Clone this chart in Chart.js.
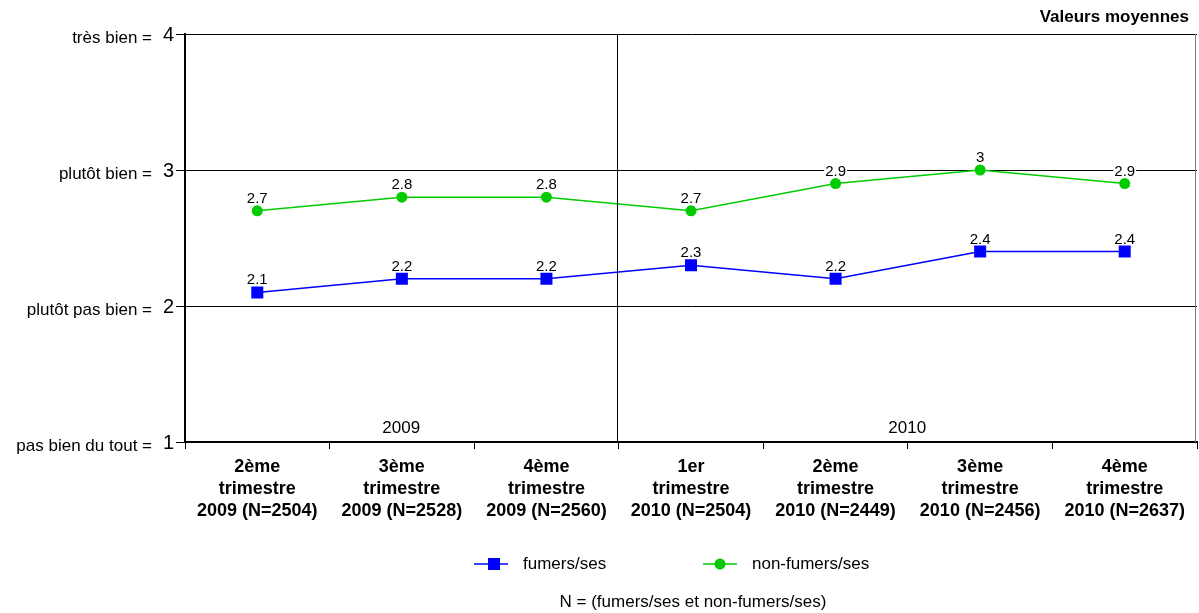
<!DOCTYPE html>
<html>
<head>
<meta charset="utf-8">
<title>Valeurs moyennes</title>
<script src="https://cdn.jsdelivr.net/npm/chart.js@4.4.1/dist/chart.umd.min.js"></script>
<style>
  html, body { margin: 0; padding: 0; background: #fff; }
  #wrap { width: 1199px; height: 613px; position: relative; }
</style>
</head>
<body>
<div id="wrap"><canvas id="myChart" width="1199" height="613"></canvas></div>
<script>
// categories (x axis, 3 lines each)
const quarters = [
  ["2ème", "trimestre", "2009 (N=2504)"],
  ["3ème", "trimestre", "2009 (N=2528)"],
  ["4ème", "trimestre", "2009 (N=2560)"],
  ["1er", "trimestre", "2010 (N=2504)"],
  ["2ème", "trimestre", "2010 (N=2449)"],
  ["3ème", "trimestre", "2010 (N=2456)"],
  ["4ème", "trimestre", "2010 (N=2637)"]
];
const fumeurs = [2.1, 2.2, 2.2, 2.3, 2.2, 2.4, 2.4];
const nonFumeurs = [2.7, 2.8, 2.8, 2.7, 2.9, 3, 2.9];

const seriesNames = ["fumers/ses", "non-fumers/ses"];
const yTickValues = [1, 2, 3, 4];
const yTickNames = { 1: "pas bien du tout =", 2: "plutôt pas bien =", 3: "plutôt bien =", 4: "très bien =" };
const years = ["2009", "2010"];
const yearSplit = 3; // first index of 2010
const chartTitle = "Valeurs moyennes";
const footNote = "N = (fumers/ses et non-fumers/ses)";

const FONT = "'Liberation Sans', Arial, sans-serif";
const blue = "#0000ff";
const green = "#00cc00";

// extra drawing: y labels, value labels, year split, legend, notes
const extras = {
  id: "extras",
  afterDraw(chart) {
    const ctx = chart.ctx;
    const area = chart.chartArea;
    const x = chart.scales.x;
    const y = chart.scales.y;
    ctx.save();

    // right border
    ctx.strokeStyle = "#808080";
    ctx.lineWidth = 1;
    ctx.beginPath();
    ctx.moveTo(area.right - 1.5, area.top);
    ctx.lineTo(area.right - 1.5, area.bottom);
    ctx.stroke();

    // year separator
    const sepX = Math.round((x.getPixelForValue(yearSplit - 1) + x.getPixelForValue(yearSplit)) / 2) - 1.5;
    ctx.strokeStyle = "#000";
    ctx.beginPath();
    ctx.moveTo(sepX, area.top);
    ctx.lineTo(sepX, area.bottom);
    ctx.stroke();

    // year labels
    ctx.fillStyle = "#000";
    ctx.font = "17px " + FONT;
    ctx.textAlign = "center";
    ctx.textBaseline = "middle";
    ctx.fillText(years[0], (area.left + sepX) / 2, area.bottom - 14);
    ctx.fillText(years[1], (sepX + area.right) / 2, area.bottom - 14);

    // y axis names
    yTickValues.forEach(v => {
      const py = y.getPixelForValue(v);
      ctx.textAlign = "right";
      ctx.font = "17px " + FONT;
      ctx.fillText(yTickNames[v], 152, py + 4);
      ctx.font = "20px " + FONT;
      ctx.fillText(String(v), 174, py + 1);
    });

    // value labels
    ctx.font = "15px " + FONT;
    ctx.textAlign = "center";
    ctx.textBaseline = "alphabetic";
    chart.data.datasets.forEach((ds, i) => {
      const meta = chart.getDatasetMeta(i);
      meta.data.forEach((pt, j) => {
        ctx.fillStyle = "#fff";
        const txt = String(ds.data[j]);
        const w = ctx.measureText(txt).width;
        ctx.fillRect(pt.x - w / 2 - 1, pt.y - 20, w + 2, 13);
        ctx.fillStyle = "#000";
        ctx.fillText(txt, pt.x, pt.y - 8);
      });
    });

    // title
    ctx.font = "bold 17px " + FONT;
    ctx.textAlign = "right";
    ctx.textBaseline = "middle";
    ctx.fillText(chartTitle, 1189, 17);

    // legend
    const legY = 564;
    const items = [
      { x: 474, color: blue, style: "rect" },
      { x: 703, color: green, style: "circle" }
    ];
    items.forEach((it, i) => {
      ctx.strokeStyle = it.color;
      ctx.fillStyle = it.color;
      ctx.lineWidth = 1.5;
      ctx.beginPath();
      ctx.moveTo(it.x, legY);
      ctx.lineTo(it.x + 34, legY);
      ctx.stroke();
      if (it.style === "rect") {
        ctx.fillRect(it.x + 20 - 6, legY - 6, 12, 12);
      } else {
        ctx.beginPath();
        ctx.arc(it.x + 17, legY, 5.5, 0, Math.PI * 2);
        ctx.fill();
      }
      ctx.fillStyle = "#000";
      ctx.font = "17px " + FONT;
      ctx.textAlign = "left";
      ctx.fillText(seriesNames[i], it.x + 49, legY);
    });

    // footnote
    ctx.textAlign = "center";
    ctx.fillText(footNote, 693, 602);
    ctx.restore();
  }
};

new Chart("myChart", {
  type: "line",
  data: {
    labels: quarters,
    datasets: [
      {
        label: seriesNames[0],
        data: fumeurs,
        borderColor: blue,
        backgroundColor: blue,
        borderWidth: 1.5,
        pointStyle: "rect",
        pointRadius: 8.5,
        pointBorderWidth: 0,
        fill: false,
        lineTension: 0
      },
      {
        label: seriesNames[1],
        data: nonFumeurs,
        borderColor: green,
        backgroundColor: green,
        borderWidth: 1.5,
        pointStyle: "circle",
        pointRadius: 5.5,
        pointBorderWidth: 0,
        fill: false,
        lineTension: 0
      }
    ]
  },
  options: {
    responsive: false,
    animation: false,
    layout: { autoPadding: false, padding: { top: 34, right: 2, left: 0, bottom: 0 } },
    plugins: {
      legend: { display: false },
      tooltip: { enabled: false },
      title: { display: false }
    },
    scales: {
      x: {
        offset: true,
        afterFit(scale) {
          scale.height = 171;
          scale.paddingLeft = 0;
          scale.paddingRight = 0;
        },
        grid: {
          offset: true,
          drawOnChartArea: false,
          drawTicks: true,
          tickLength: 7,
          color: "#000"
        },
        border: { color: "#000", width: 2 },
        ticks: {
          color: "#000",
          padding: 7,
          maxRotation: 0,
          autoSkip: false,
          font: { family: FONT, size: 18, weight: "bold", lineHeight: 1.23 }
        }
      },
      y: {
        min: 1,
        max: 4,
        afterFit(scale) { scale.width = 185; },
        grid: {
          color: "#000",
          lineWidth: 1,
          tickLength: 9
        },
        border: { color: "#000", width: 2 },
        ticks: {
          stepSize: 1,
          display: false
        }
      }
    }
  },
  plugins: [extras]
});
</script>
</body>
</html>
